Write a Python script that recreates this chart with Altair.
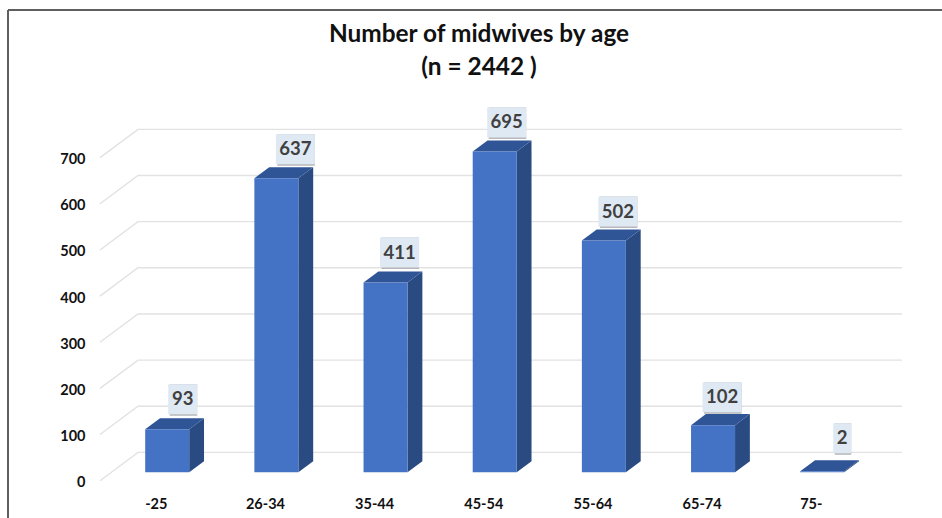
import altair as alt
import pandas as pd

# Survey counts by age band
age_bands = ["-25", "26-34", "35-44", "45-54", "55-64", "65-74", "75-"]
midwives = [93, 637, 411, 695, 502, 102, 2]
value_ticks = [0, 100, 200, 300, 400, 500, 600, 700]
title_lines = ["Number of midwives by age", "(n = 2442 )"]

# Label placement along the bar's top, in pixels
label_dx = [15.5, 19, 14, 12, 14, 9, 20]
label_dy = [30, 29, 30, 29, 29, 28, 33]
box_width = {1: 18, 2: 29, 3: 39}

# Canvas layout
LEFT, TOP, RIGHT, BOTTOM = 100, 110, 40, 37.3
PLOT_W, PLOT_H = 942 - LEFT - RIGHT, 518 - TOP - BOTTOM
PX_PER_UNIT = 0.4615
PX_PER_SLOT = 109.17
X_MIN = -(155.8 - LEFT) / PX_PER_SLOT
X_MAX = X_MIN + PLOT_W / PX_PER_SLOT
Y_MAX = PLOT_H / PX_PER_UNIT

# Oblique projection: depth 0 is the front of the floor, depth 1 the back wall
DEPTH_X = 38 / PX_PER_SLOT
DEPTH_Y = 28.3 / PX_PER_UNIT
BAR_FRONT, BAR_BACK = 0.3, 0.69
BAR_HALF = 22 / PX_PER_SLOT


def project(x, v, depth):
    return x + depth * DEPTH_X, v + depth * DEPTH_Y


x_scale = alt.Scale(domain=[X_MIN, X_MAX], nice=False, zero=False)
y_scale = alt.Scale(domain=[0, Y_MAX], nice=False, zero=False)
X = alt.X("x:Q", scale=x_scale, title=None)
Y = alt.Y("y:Q", scale=y_scale, title=None, stack=None)

# Floor edge and back-wall gridlines
grid_rows = []
for v in value_ticks:
    for order, (x, depth) in enumerate([(X_MIN, 0), (X_MIN, 1), (X_MAX - DEPTH_X, 1)]):
        px, py = project(x, v, depth)
        grid_rows.append({"tick": v, "order": order, "x": px, "y": py})
grid = (
    alt.Chart(pd.DataFrame(grid_rows))
    .mark_line(color="#e2e2e2", strokeWidth=1.4, clip=False)
    .encode(x=X, y=Y, detail="tick:N", order="order:Q")
)

# Front, top and side faces of every bar
front_rows, top_rows, side_rows = [], [], []
for i, v in enumerate(midwives):
    x0, x1 = i - BAR_HALF, i + BAR_HALF
    fx0, fy1 = project(x0, v, BAR_FRONT)
    fx1, fy0 = project(x1, 0, BAR_FRONT)
    front_rows.append({"x": fx0, "x2": fx1, "y": fy0, "y2": fy1})

    bx0, by1 = project(x0, v, BAR_BACK)
    bx1, _ = project(x1, v, BAR_BACK)
    _, by0 = project(x1, 0, BAR_BACK)
    top_rows += [
        {"bar": i, "x": fx0, "y": fy1, "y2": fy1},
        {"bar": i, "x": bx0, "y": fy1, "y2": by1},
        {"bar": i, "x": fx1, "y": fy1, "y2": by1},
        {"bar": i, "x": bx1, "y": by1, "y2": by1},
    ]
    side_rows += [
        {"bar": i, "x": fx1, "y": fy0, "y2": fy1},
        {"bar": i, "x": bx1, "y": by0, "y2": by1},
    ]

front = (
    alt.Chart(pd.DataFrame(front_rows))
    .mark_rect(color="#4472c4")
    .encode(x=X, x2="x2:Q", y=Y, y2="y2:Q")
)
top_face = (
    alt.Chart(pd.DataFrame(top_rows))
    .mark_area(color="#2f5597", orient="vertical")
    .encode(x=X, y=Y, y2="y2:Q", detail="bar:N")
)
side_face = (
    alt.Chart(pd.DataFrame(side_rows))
    .mark_area(color="#2a4a82", orient="vertical")
    .encode(x=X, y=Y, y2="y2:Q", detail="bar:N")
)

# Value labels in pale boxes with a soft drop edge
label_rows = []
for i, v in enumerate(midwives):
    text = str(v)
    cx, top = project(i, v, BAR_FRONT)
    cx += label_dx[i] / PX_PER_SLOT
    cy = top + label_dy[i] / PX_PER_UNIT
    half_w = box_width[len(text)] / 2 / PX_PER_SLOT
    half_h = 15 / PX_PER_UNIT
    label_rows.append(
        {
            "text": text,
            "x": cx,
            "y": cy,
            "bx0": cx - half_w,
            "bx1": cx + half_w,
            "by0": cy - half_h,
            "by1": cy + half_h,
        }
    )
labels = pd.DataFrame(label_rows)
box_enc = dict(
    x=alt.X("bx0:Q", scale=x_scale, title=None),
    x2="bx1:Q",
    y=alt.Y("by0:Q", scale=y_scale, title=None),
    y2="by1:Q",
)
box_shadow = alt.Chart(labels).mark_rect(color="#a9acaf", xOffset=1.5, yOffset=1.5, opacity=0.85).encode(**box_enc)
box = alt.Chart(labels).mark_rect(color="#dfe9f4").encode(**box_enc)
label_text = (
    alt.Chart(labels)
    .mark_text(font="Lato", fontWeight="bold", fontSize=18.5, color="#404040", baseline="middle", align="center")
    .encode(x=X, y=Y, text="text:N")
)

# Axes carry only their labels
label_lookup = "[" + ",".join(f"'{c}'" for c in age_bands) + "][datum.value]"
axes = (
    alt.Chart(pd.DataFrame({"x": list(range(len(age_bands))), "y": [0] * len(age_bands)}))
    .mark_point(opacity=0)
    .encode(
        x=alt.X(
            "x:Q",
            scale=x_scale,
            title=None,
            axis=alt.Axis(
                values=list(range(len(age_bands))),
                labelExpr=label_lookup,
                domain=False,
                ticks=False,
                grid=False,
                labelFont="Lato",
                labelFontWeight="bold",
                labelFontSize=14.5,
                labelColor="#111111",
                labelPadding=17,
                labelOverlap=False,
            ),
        ),
        y=alt.Y(
            "y:Q",
            scale=y_scale,
            title=None,
            axis=alt.Axis(
                values=value_ticks,
                domain=False,
                ticks=False,
                grid=False,
                labelFont="Lato",
                labelFontWeight="bold",
                labelFontSize=14.5,
                labelColor="#111111",
                labelPadding=15,
                labelOffset=2,
            ),
        ),
    )
)

# Two-line heading above the plot
heading = [
    alt.Chart(pd.DataFrame({"line": [line]}))
    .mark_text(font="Lato", fontWeight="bold", fontSize=24.4, color="#111111", align="center", baseline="middle")
    .encode(x=alt.value(479 - LEFT), y=alt.value(35 + row * 33 - TOP), text="line:N")
    for row, line in enumerate(title_lines)
]

# Outer frame of the figure, open on the right and at the bottom
frame_top = (
    alt.Chart(pd.DataFrame({"a": [0]}))
    .mark_rule(color="#5f5f5f", strokeWidth=2, clip=False)
    .encode(x=alt.value(8 - LEFT), x2=alt.value(942 - LEFT), y=alt.value(10 - TOP))
)
frame_left = (
    alt.Chart(pd.DataFrame({"a": [0]}))
    .mark_rule(color="#5f5f5f", strokeWidth=2, clip=False)
    .encode(x=alt.value(8 - LEFT), y=alt.value(10 - TOP), y2=alt.value(518 - TOP))
)

chart = (
    alt.layer(
        axes, grid, side_face, top_face, front, box_shadow, box, label_text,
        *heading, frame_top, frame_left,
    )
    .properties(
        width=PLOT_W,
        height=PLOT_H,
        padding={"left": LEFT, "top": TOP, "right": RIGHT, "bottom": BOTTOM},
        autosize=alt.AutoSizeParams(type="none"),
        background="white",
    )
    .configure_view(stroke=None)
)

chart.save("out.html", embed_options={"renderer": "svg", "actions": False})
